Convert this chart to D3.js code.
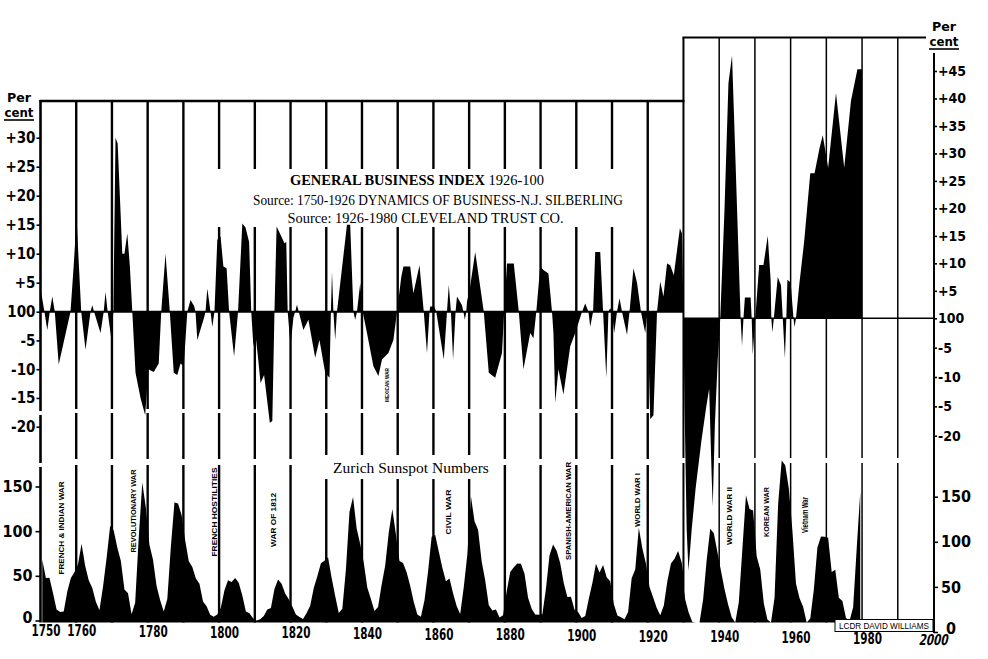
<!DOCTYPE html>
<html><head><meta charset="utf-8">
<script src="https://cdn.jsdelivr.net/npm/d3@7"></script>
<style>
html,body{margin:0;padding:0;background:#fff;}
svg{display:block;}
</style></head><body>
<svg id="c" width="988" height="659"></svg>
<script>
// ---------------- DATA ----------------
// General Business Index (per cent from normal), 1750-1930 (Silberling)
const bizOldYears = [1750.0,1751.1,1751.9,1752.6,1753.3,1754.0,1755.1,1758.4,1759.3,1760.1,1761.4,1762.6,1764.0,1764.5,1765.0,1766.8,1767.7,1768.2,1768.8,1769.8,1770.4,1771.0,1771.6,1772.9,1773.5,1774.3,1775.0,1775.7,1776.6,1778.0,1779.3,1780.2,1781.7,1783.1,1783.8,1785.0,1786.2,1787.3,1788.3,1789.2,1790.1,1791.1,1792.0,1793.0,1793.4,1793.9,1795.8,1796.2,1796.7,1797.6,1798.1,1798.7,1799.5,1800.4,1801.2,1802.1,1802.8,1804.2,1805.3,1806.5,1807.4,1808.4,1809.0,1809.6,1810.2,1810.9,1811.6,1812.6,1814.2,1814.9,1815.5,1816.1,1817.4,1818.3,1818.8,1819.2,1820.0,1820.8,1821.3,1821.8,1822.3,1823.6,1825.0,1826.9,1828.1,1829.7,1830.9,1831.3,1831.6,1832.0,1832.5,1833.0,1835.8,1836.7,1837.6,1838.1,1838.6,1839.5,1840.2,1841.4,1843.2,1844.6,1845.6,1847.4,1848.8,1849.8,1851.0,1851.6,1853.5,1854.4,1856.1,1857.3,1858.2,1858.9,1859.1,1860.2,1860.8,1862.9,1863.8,1864.3,1864.9,1865.5,1866.2,1866.6,1868.0,1868.4,1868.8,1869.2,1869.4,1870.2,1871.7,1873.1,1874.1,1875.5,1877.3,1879.2,1879.8,1880.6,1882.5,1883.9,1885.2,1887.1,1888.0,1888.8,1889.9,1890.8,1892.2,1893.2,1893.6,1894.1,1895.0,1896.4,1898.3,1899.7,1901.6,1902.5,1903.4,1903.9,1904.7,1905.3,1906.7,1907.5,1908.4,1909.0,1909.5,1910.0,1910.6,1911.4,1912.1,1912.8,1914.2,1914.9,1916.0,1917.0,1918.1,1919.3,1919.9,1920.7,1921.6,1922.6,1923.5,1924.4,1925.4,1926.3,1927.3,1929.0,1929.6,1930.0];
const bizOldValues = [4,0,-3.2,0,2.6,0,-9.2,0,8,16,0,-6.6,0,1.1,0,-3.7,0,3.4,0,-4.6,0,30,29,10,10,13.5,8,0,-10.6,-15,-18,-10,-10.5,-9,0,10,0,-10.6,-11,-9,-9.5,0,2,1,0,-4.9,-1,0,4,0,-2.6,0,12.4,13,7.8,7.5,0,-7.8,0,15.2,14.5,12,0,-6,-4,-8,-12.4,-11,-19.3,-19,0,14.7,13,11.8,12,0,-6,-1,0,1.2,0,-3.2,-1.4,-8,-4.9,-10.6,-11.5,0,6.9,0,-4.9,0,15,15,0,-1.4,0,4.9,0,-3.7,-9.5,-11.2,-8.3,-7.2,-4.9,0,6,7.8,7.8,3.2,8,0,-7.2,0,0.9,0.9,0,-8.3,0,4.6,0,-8.3,0,2.6,1.1,0,-1.4,0,1.7,4,10.3,4.3,0,-10.6,-11.5,-7.2,0,8.3,8.3,0,-10,-3.7,-4.6,0,7.8,7.2,6.6,0,-3.7,-15.8,-10,-14.4,-6,-3.7,0,1.4,0,-2.6,0,10.3,10.3,0,-11.5,0,0.6,0,-3.7,0,2.3,0,-4,0,7.5,5,0,-3.7,0,-18.7,-18,0,5.2,2.6,8.3,8,6.3,14.4,13.5,0];
// General Business Index 1930-1980 (Cleveland Trust Co.)
const bizNewYears = [1930.0,1930.3,1930.9,1931.4,1932.3,1933.4,1935.0,1936.4,1937.2,1937.9,1938.2,1938.8,1939.6,1940.3,1941.5,1942.6,1943.6,1944.5,1946.0,1946.4,1946.8,1947.2,1948.8,1949.1,1949.4,1950.1,1951.2,1952.4,1953.6,1954.4,1954.6,1954.9,1955.3,1956.4,1957.3,1957.8,1958.4,1958.8,1959.1,1960.0,1960.8,1961.1,1961.5,1962.4,1963.8,1965.5,1966.7,1968.1,1969.0,1970.5,1972.7,1975.0,1976.9,1978.7,1979.4,1980.0,1980.0];
const bizNewValues = [0,-15,-36,-43,-36,-29,-21,-15,-12,-27,-32,-18,-7,0,20,42.8,47.8,30,0,-4.7,0,3.8,3.8,0,-6.2,0,9.7,9.7,15,7,0,-2.4,0,7.5,6,0,-6.8,0,7,6.5,0,-1.5,0,6,14,26.4,26.4,31,33.3,27.4,41,27.4,39.6,45.3,45.3,45.3,0];
// Zurich sunspot numbers, annual, 1750-1979
const sunFirstYear = 1750;
const sunValues = [68,47.7,47.8,30.7,12.2,9.6,10.2,32.4,47.6,54.0,
 62.9,85.9,61.2,45.1,36.4,20.9,11.4,37.8,69.8,106.1,
 100.8,81.6,66.5,34.8,30.6,7.0,19.8,92.5,154.4,125.9,
 84.8,68.1,38.5,22.8,10.2,24.1,82.9,132.0,130.9,118.1,
 89.9,66.6,60.0,46.9,41.0,21.3,16.0,6.4,4.1,6.8,
 14.5,34.0,45.0,43.1,47.5,42.2,28.1,10.1,8.1,2.5,
 0.0,1.4,5.0,12.2,13.9,35.4,45.8,41.1,30.1,23.9,
 15.6,6.6,4.0,1.8,8.5,16.6,36.3,49.6,64.2,67.0,
 70.9,47.8,27.5,8.5,13.2,56.9,121.5,138.3,103.2,85.7,
 64.6,36.7,24.2,10.7,15.0,40.1,61.5,98.5,124.7,96.3,
 66.6,64.5,54.1,39.0,20.6,6.7,4.3,22.7,54.8,93.8,
 95.8,77.2,59.1,44.0,47.0,30.5,16.3,7.3,37.6,74.0,
 139.0,111.2,101.6,66.2,44.7,17.0,11.3,12.4,3.4,6.0,
 32.3,54.3,59.7,63.7,63.5,52.2,25.4,13.1,6.8,6.3,
 7.1,35.6,73.0,85.1,78.0,64.0,41.8,26.2,26.7,12.1,
 9.5,2.7,5.0,24.4,42.0,63.5,53.8,62.0,48.5,43.9,
 18.6,5.7,3.6,1.4,9.6,47.4,57.1,103.9,80.6,63.6,
 37.6,26.1,14.2,5.8,16.7,44.3,63.9,69.0,77.8,64.9,
 35.7,21.2,11.1,5.7,8.7,36.1,79.7,114.4,109.6,88.8,
 67.8,47.5,30.6,16.3,9.6,33.2,92.6,151.6,136.3,134.7,
 83.9,69.4,31.5,13.9,4.4,38.0,141.7,190.2,184.8,159.0,
 112.3,53.9,37.5,27.9,10.2,15.1,47.0,93.8,105.9,105.5,
 104.5,66.6,68.9,38.0,34.5,15.5,12.6,27.5,92.5,155.4];

const decadeYears = [1760,1770,1780,1790,1800,1810,1820,1830,1840,1850,1860,1870,1880,1890,1900,1910,1920,1930,1940,1950,1960,1970,1980,1990];
const xTickYears = [1750,1760,1780,1800,1820,1840,1860,1880,1900,1920,1940,1960,1980,2000];
const xTickLabels = ["1750","1760","1780","1800","1820","1840","1860","1880","1900","1920","1940","1960","1980","2000"];
const leftBizTicks = [-20,-15,-10,-5,0,5,10,15,20,25,30];
const leftBizLabels = ["-20","-15","-10","-5","100","+5","+10","+15","+20","+25","+30"];
const rightBizTicks = [-20,-15,-10,-5,0,5,10,15,20,25,30,35,40,45];
const rightBizLabels = ["-20","-5","-10","-5","100","+5","+10","+15","+20","+25","+30","+35","+40","+45"];
const sunTicks = [0,50,100,150];
const sunTickLabels = ["0","50","100","150"];
const warNames = ["FRENCH & INDIAN WAR","REVOLUTIONARY WAR","FRENCH HOSTILITIES","WAR OF 1812","MEXICAN WAR","CIVIL WAR","SPANISH-AMERICAN WAR","WORLD WAR I","WORLD WAR II","KOREAN WAR","Vietnam War"];
const warYears = [1756.0,1775.9,1798.6,1815.1,1847.1,1864.2,1897.8,1917.2,1943.0,1953.3,1964.0];

// ---------------- LAYOUT ----------------
const svg = d3.select("#c");
const NARROW = '"Liberation Sans Narrow","DejaVu Sans Condensed","Liberation Sans",sans-serif';
const SERIF = '"Liberation Serif","DejaVu Serif",serif';

const x = d3.scaleLinear().domain([1750, 2000]).range([40.5, 933.5]);
const yBizL = d3.scaleLinear().domain([-20, 0, 30]).range([426.7, 311.7, 137.7]);
const yBizR = d3.scaleLinear().domain([-20, 0, 45]).range([435.7, 318.3, 71]);
const ySunL = d3.scaleLinear().domain([0, 150]).range([620.5, 486.5]);
const ySunR = d3.scaleLinear().domain([0, 150]).range([632, 496.7]);
const sunBase = 622.5;
const xSplit = x(1930);
const axisL = 40.5, axisR = 934;

// clip paths
const defs = svg.append("defs");
defs.append("clipPath").attr("id","clipL").append("rect").attr("x",0).attr("y",0).attr("width",xSplit).attr("height",659);
defs.append("clipPath").attr("id","clipR").append("rect").attr("x",xSplit).attr("y",0).attr("width",x(1980)-xSplit).attr("height",659);

// vertical decade lines (with small white paste-up gaps)
decadeYears.forEach(yr => {
  const xx = x(yr);
  const top = yr >= 1930 ? 37.5 : 101;
  const gaps = yr <= 1920 ? [[409,413],[459,465]] : [[458,463]];
  let segs = [], s = top;
  gaps.forEach(g => { segs.push([s, g[0]]); s = g[1]; });
  segs.push([s, yr === 1990 ? 619 : sunBase]);
  const w = yr > 1930 ? 1.5 : (yr === 1930 ? 2 : 2.4);
  segs.forEach(sg => svg.append("line").attr("x1",xx).attr("x2",xx).attr("y1",sg[0]).attr("y2",sg[1])
    .attr("stroke","#000").attr("stroke-width",w));
});

// knockout boxes behind titles
svg.append("rect").attr("x",216).attr("y",169).attr("width",426).attr("height",58).attr("fill","#fff");
svg.append("rect").attr("x",322).attr("y",455).attr("width",158).attr("height",24).attr("fill","#fff");

// box borders
svg.append("line").attr("x1",axisL-1).attr("x2",xSplit+1).attr("y1",101).attr("y2",101).attr("stroke","#000").attr("stroke-width",2.5);
svg.append("line").attr("x1",xSplit-1).attr("x2",926).attr("y1",37.5).attr("y2",37.5).attr("stroke","#000").attr("stroke-width",2);
[[100,411],[415,463],[467,sunBase]].forEach(sg =>
  svg.append("line").attr("x1",axisL).attr("x2",axisL).attr("y1",sg[0]).attr("y2",sg[1]).attr("stroke","#000").attr("stroke-width",2.6));
svg.append("line").attr("x1",axisR).attr("x2",axisR).attr("y1",53).attr("y2",633).attr("stroke","#000").attr("stroke-width",2);

// business index areas
const bizOld = bizOldYears.map((yr,i)=>[yr, bizOldValues[i]]);
const bizNew = bizNewYears.map((yr,i)=>[yr, bizNewValues[i]]);
svg.append("path").datum(bizOld)
  .attr("d", d3.area().x(d=>x(d[0])).y0(yBizL(0)).y1(d=>yBizL(d[1])))
  .attr("fill","#000");
svg.append("path").datum(bizNew)
  .attr("d", d3.area().x(d=>x(d[0])).y0(yBizR(0)).y1(d=>yBizR(d[1])))
  .attr("fill","#000");

// zero (=100) lines
svg.append("line").attr("x1",axisL).attr("x2",xSplit).attr("y1",yBizL(0)).attr("y2",yBizL(0)).attr("stroke","#000").attr("stroke-width",2);
svg.append("line").attr("x1",xSplit).attr("x2",axisR).attr("y1",yBizR(0)).attr("y2",yBizR(0)).attr("stroke","#000").attr("stroke-width",1.6);

// sunspot areas (annual means plotted at mid-year)
const sun = sunValues.map((v,i)=>[sunFirstYear + i + 0.5, v]);
svg.append("path").datum(sun).attr("clip-path","url(#clipL)")
  .attr("d", d3.area().x(d=>x(d[0])).y0(sunBase).y1(d=>Math.min(ySunL(d[1]), sunBase)))
  .attr("fill","#000");
svg.append("path").datum(sun).attr("clip-path","url(#clipR)")
  .attr("d", d3.area().x(d=>x(d[0])).y0(sunBase).y1(d=>Math.min(ySunR(d[1]), sunBase)))
  .attr("fill","#000");

// ---------------- AXES ----------------
function styleAxis(g, size){
  g.select(".domain").remove();
  g.attr("font-family", NARROW).attr("font-size", size).attr("font-weight","bold");
  g.selectAll(".tick line").attr("stroke","#000").attr("stroke-width",1.6);
  g.selectAll(".tick text").attr("fill","#000");
}
svg.append("g").attr("transform",`translate(${axisL},0)`)
  .call(d3.axisLeft(yBizL).tickValues(leftBizTicks).tickFormat((d,i)=>leftBizLabels[i]).tickSize(4).tickPadding(1))
  .call(g=>styleAxis(g,15));
svg.append("g").attr("transform",`translate(${axisR},0)`)
  .call(d3.axisRight(yBizR).tickValues(rightBizTicks).tickFormat((d,i)=>rightBizLabels[i]).tickSize(3).tickPadding(1))
  .call(g=>styleAxis(g,14));
svg.append("g").attr("transform",`translate(${axisL},0)`)
  .call(d3.axisLeft(ySunL).tickValues(sunTicks).tickFormat((d,i)=>sunTickLabels[i]).tickSize(5).tickPadding(3))
  .call(g=>styleAxis(g,16))
  .call(g=>g.selectAll(".tick").filter(d=>d===0).select("text").attr("dy","0.1em"));
svg.append("g").attr("transform",`translate(${axisR},0)`)
  .call(d3.axisRight(ySunR).tickValues(sunTicks).tickFormat((d,i)=>sunTickLabels[i]).tickSize(4).tickPadding(3))
  .call(g=>styleAxis(g,16))
  .call(g=>g.selectAll(".tick").filter(d=>d===0).select("text").attr("dy","0.1em").attr("x",12));
const xg = svg.append("g").attr("transform",`translate(5,${sunBase})`)
  .call(d3.axisBottom(x).tickValues(xTickYears).tickFormat((d,i)=>xTickLabels[i]).tickSize(0).tickPadding(3))
  .call(g=>styleAxis(g,15));
// the scanned sheet is slightly tilted: labels sit a little lower toward the right
xg.selectAll(".tick text")
  .attr("textLength",29).attr("lengthAdjust","spacingAndGlyphs")
  .attr("transform", d => `translate(0,${(d-1750)/250*8})`);
xg.selectAll(".tick").filter(d=>d===2000).select("text")
  .attr("transform","translate(-3,9) skewX(-12)");

// "Per cent" headers
function perCent(xc, y1){
  svg.append("text").attr("x",xc).attr("y",y1).attr("text-anchor","middle")
    .attr("font-family",NARROW).attr("font-weight","bold").attr("font-size",12)
    .attr("textLength",24).attr("lengthAdjust","spacingAndGlyphs").text("Per");
  svg.append("text").attr("x",xc).attr("y",y1+15).attr("text-anchor","middle")
    .attr("font-family",NARROW).attr("font-weight","bold").attr("font-size",12)
    .attr("textLength",29).attr("lengthAdjust","spacingAndGlyphs").text("cent");
  svg.append("line").attr("x1",xc-15).attr("x2",xc+15).attr("y1",y1+18).attr("y2",y1+18).attr("stroke","#000").attr("stroke-width",1.6);
}
perCent(19, 102);
perCent(944, 31);

// titles
const t1 = svg.append("text").attr("x",417).attr("y",185).attr("text-anchor","middle")
  .attr("font-family",SERIF).attr("font-size",14.5).attr("fill","#000");
t1.append("tspan").attr("font-weight","bold").text("GENERAL BUSINESS INDEX");
t1.append("tspan").text(" 1926-100");
svg.append("text").attr("x",438).attr("y",205).attr("text-anchor","middle")
  .attr("font-family",SERIF).attr("font-size",15).attr("textLength",370).attr("lengthAdjust","spacingAndGlyphs")
  .text("Source: 1750-1926 DYNAMICS OF BUSINESS-N.J. SILBERLING");
svg.append("text").attr("x",425.5).attr("y",223).attr("text-anchor","middle")
  .attr("font-family",SERIF).attr("font-size",15).attr("textLength",276).attr("lengthAdjust","spacingAndGlyphs")
  .text("Source: 1926-1980 CLEVELAND TRUST CO.");
svg.append("text").attr("x",333).attr("y",473)
  .attr("font-family",SERIF).attr("font-size",15.5).attr("fill","#000")
  .text("Zurich Sunspot Numbers");

// war labels (rotated)
const warLayout = [[528,93,7],[511,83,7],[512,89,7],[520,54,7],[385,34,4.5],[512,45,7],[511,98,7],[500,54,7],[516,58,7],[512,50,7],[515,36,8.5]];
warNames.forEach((n,i)=>{
  const [yc, len, fs] = warLayout[i];
  svg.append("text").attr("transform",`translate(${x(warYears[i])},${yc}) rotate(-90)`)
    .attr("text-anchor","middle").attr("dominant-baseline","central")
    .attr("font-family",'"Liberation Sans","DejaVu Sans",sans-serif').attr("font-weight","bold")
    .attr("font-size",fs).attr("textLength",len).attr("lengthAdjust","spacingAndGlyphs")
    .text(n);
});

// credit box
svg.append("rect").attr("x",835).attr("y",619.5).attr("width",98).attr("height",12)
  .attr("fill","#fff").attr("stroke","#000").attr("stroke-width",1);
svg.append("text").attr("x",884).attr("y",629).attr("text-anchor","middle")
  .attr("font-family",'"Liberation Sans","DejaVu Sans",sans-serif').attr("font-size",9)
  .attr("textLength",90).attr("lengthAdjust","spacingAndGlyphs").text("LCDR DAVID WILLIAMS");
</script>
</body></html>
